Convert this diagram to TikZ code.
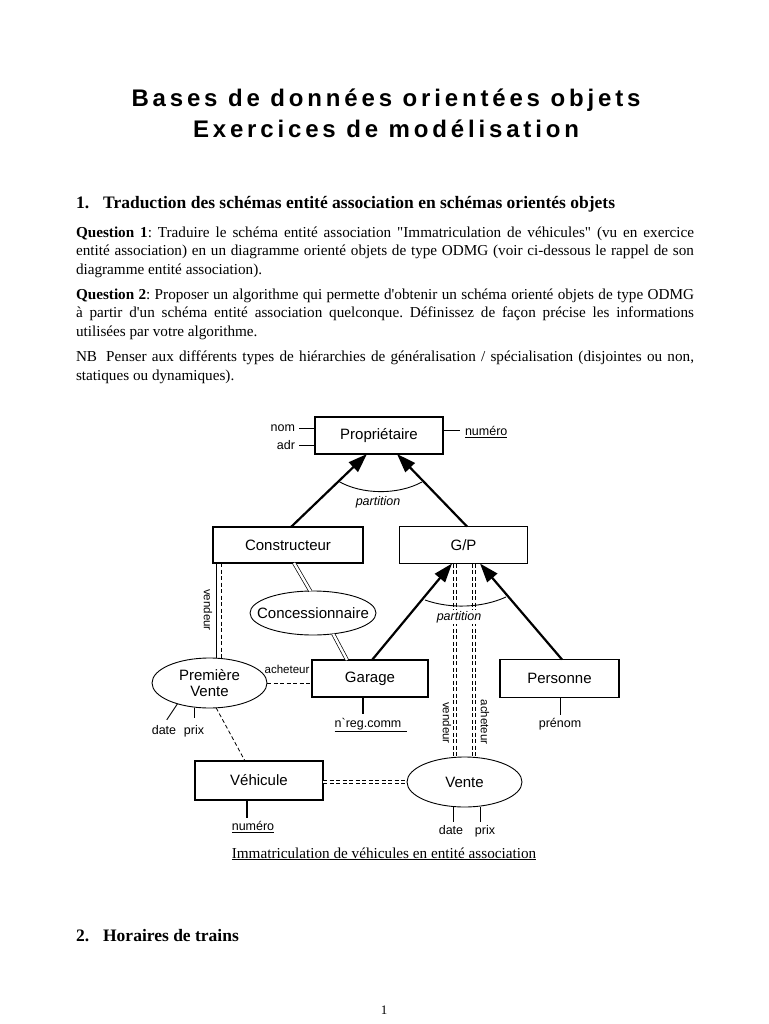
\documentclass[tikz,border=0pt]{standalone}
\usepackage{fontspec}
\setmainfont{Liberation Serif}[Ligatures=TeXOff]
\setsansfont{Liberation Sans}[Ligatures=TeXOff]
\newfontfamily\titlefont{Liberation Sans}[LetterSpace=16]
\usetikzlibrary{shapes.geometric,arrows.meta,calc}
\frenchspacing
\begin{document}
\begin{tikzpicture}[x=1pt,y=-1pt,
 every node/.style={inner sep=0pt,outer sep=0pt},
 body/.style={anchor=base west,font=\fontsize{15.2}{19}\selectfont},
 head/.style={anchor=base west,font=\bfseries\fontsize{17.5}{21}\selectfont},
 ttl/.style={anchor=base,font=\titlefont\bfseries\fontsize{24}{28}\selectfont},
 ent/.style={draw,line width=1.1pt,font=\sffamily\fontsize{15}{18}\selectfont},
 rel/.style={ellipse,draw,line width=0.9pt,inner sep=0pt},
 reltext/.style={font=\sffamily\fontsize{15}{16}\selectfont,align=center},
 attr/.style={font=\sffamily\fontsize{12.5}{14}\selectfont,inner sep=1pt},
 role/.style={font=\sffamily\fontsize{11.5}{13}\selectfont,inner sep=1pt},
 part/.style={font=\sffamily\itshape\fontsize{12.5}{14}\selectfont,inner sep=1.5pt},
 isa/.style={line width=2.2pt,-{Triangle[length=19pt,width=13pt]}},
 aline/.style={line width=0.9pt},
 dline/.style={line width=0.8pt,dash pattern=on 4pt off 2.5pt},
 ddline/.style={line width=0.7pt,double,double distance=2.6pt,dash pattern=on 4pt off 2.5pt},
 dbl/.style={line width=0.7pt,double,double distance=2.4pt},
]
\useasboundingbox (0,0) rectangle (768,1024);
\fill[white] (0,0) rectangle (768,1024);

% ---------- title and text ----------
\node[ttl] (t1) at (386,107) {Bases de données orientées objets};
\node[ttl] (t2) at (386,138) {Exercices de modélisation};

\node[head] (h1) at (76,209) {1.\hspace{14pt}Traduction des schémas entité association en schémas orientés objets};

\node[body] (q1a) at (76,237) {\makebox[618pt][s]{\textbf{Question 1}: Traduire le schéma entité association "Immatriculation de véhicules" (vu en exercice}};
\node[body] (q1b) at (76,255.5) {\makebox[618pt][s]{entité association) en un diagramme orienté objets de type ODMG (voir ci-dessous le rappel de son}};
\node[body] (q1c) at (76,274) {diagramme entité association).};

\node[body] (q2a) at (76,299) {\makebox[618pt][s]{\textbf{Question 2}: Proposer un algorithme qui permette d'obtenir un schéma orienté objets de type ODMG}};
\node[body] (q2b) at (76,317.5) {\makebox[618pt][s]{à partir d'un schéma entité association quelconque. Définissez de façon précise les informations}};
\node[body] (q2c) at (76,336) {utilisées par votre algorithme.};

\node[body] (nba) at (76,361) {\makebox[618pt][s]{NB\hspace{0.6em}Penser aux différents types de hiérarchies de généralisation / spécialisation (disjointes ou non,}};
\node[body] (nbb) at (76,380) {statiques ou dynamiques).};

% ---------- entities ----------
\node[ent,minimum width=128pt,minimum height=37pt] (prop) at (379,435.5) {Propriétaire};
\node[ent,minimum width=150pt,minimum height=36pt] (constr) at (288,545) {Constructeur};
\node[ent,minimum width=128pt,minimum height=37pt] (gp) at (463.5,545) {G/P};
\node[ent,minimum width=116pt,minimum height=37pt] (garage) at (370,678.5) {Garage};
\node[ent,minimum width=119pt,minimum height=38pt] (pers) at (559.5,678.5) {Personne};
\node[ent,minimum width=128pt,minimum height=39pt] (veh) at (259,780.5) {Véhicule};

% ---------- relationships ----------
\node[rel,minimum width=126pt,minimum height=44pt,label={[reltext]center:Concessionnaire}] (conc) at (313,613) {};
\node[rel,minimum width=115pt,minimum height=50pt,label={[reltext]center:Première\\Vente}] (pv) at (209.5,683) {};
\node[rel,minimum width=115pt,minimum height=50pt,label={[reltext]center:Vente}] (vente) at (464.5,782) {};

% ---------- generalisation arrows ----------
\draw[isa] (constr.north -| 291,0) -- (prop.south -| 367,0);
\draw[isa] (gp.north -| 467,0) -- (prop.south -| 397,0);
\draw[aline] (338,481) .. controls (362,495) and (398,495) .. (422,482);
\node[part] (p1) at (378,502) {partition};

% ---------- links ----------
% Constructeur - Concessionnaire - Garage
\draw[dbl] (constr.south -| 294,0) -- (conc.97);
\draw[dbl] (conc.-46) -- (garage.north -| 347,0);
% vendeur (Premiere vente)
\draw[line width=0.8pt] (constr.south -| 216,0) -- (pv.north -| 216,0);
\draw[dline] (constr.south -| 221,0) -- (pv.north -| 221,0);
\node[role,rotate=-90] (vend1) at (208,610) {vendeur};
% acheteur (Premiere vente)
\draw[dline] (pv.east) -- (pv.east -| garage.west);
\node[role] (ach1) at (287,669) {acheteur};
% Premiere vente - Vehicule
\draw[dline] (pv.-75) -- (veh.north -| 245,0);
% Vehicule - Vente
\draw[ddline] (veh.east |- vente.west) -- (vente.west);

% vendeur / acheteur (Vente) from G/P
\draw[ddline] (gp.south -| 455,0) -- (vente.north -| 455,0);
\draw[ddline] (gp.south -| 474,0) -- (vente.north -| 474,0);
\node[role,rotate=-90] (vend2) at (447,723) {vendeur};
\node[role,rotate=-90] (ach2) at (485,722) {acheteur};

% G/P generalisation
\draw[isa] (garage.north -| 372,0) -- (gp.south -| 452,0);
\draw[isa] (pers.north -| 562,0) -- (gp.south -| 480,0);
\draw[aline] (425,600) .. controls (450,609) and (482,608) .. (506,597);
\node[part,fill=white] (p2) at (459,617) {partition};

% ---------- attributes ----------
\node[attr,anchor=east] (nom) at (296,428) {nom};
\node[attr,anchor=east] (adr) at (296,445) {adr};
\draw[aline,shorten <=3pt] (nom.east) -- (nom.east -| prop.west);
\draw[aline,shorten <=3pt] (adr.east) -- (adr.east -| prop.west);
\node[attr,anchor=west] (pnum) at (464,432) {\underline{numéro}};
\draw[aline] (prop.east |- 0,430) -- (460,430);

\node[attr,anchor=north] (greg) at (371,717) {\underline{n\textasciigrave reg.comm\hspace*{6pt}}};
\draw[line width=1.4pt,shorten >=3pt] (garage.south -| 363,0) -- (greg.north -| 363,0);

\node[attr,anchor=north] (pren) at (560,717) {prénom};
\draw[aline,shorten >=2pt] (pren.north |- pers.south) -- (pren.north);

\node[attr,anchor=north] (vnum) at (253,820) {\underline{numéro}};
\draw[line width=1.4pt,shorten >=2pt] (veh.south -| 247,0) -- (vnum.north -| 247,0);

\node[attr,anchor=north] (vdate) at (451,824) {date};
\node[attr,anchor=north] (vprix) at (485,824) {prix};
\draw[aline,shorten >=2pt] (vente.south -| 453,0) -- (vdate.north -| 453,0);
\draw[aline,shorten >=2pt] (vente.south -| 480,0) -- (vprix.north -| 480,0);

\node[attr,anchor=north] (pdate) at (164,724) {date};
\node[attr,anchor=north] (pprix) at (194,724) {prix};
\draw[aline,shorten >=5pt] (pv.-147) -- (pdate.north);
\draw[aline,shorten >=6pt] (pv.south -| pprix.north) -- (pprix.north);

% ---------- caption and rest ----------
\node[anchor=base,font=\fontsize{15.2}{18}\selectfont] (cap) at (384,858) {\underline{Immatriculation de véhicules en entité association}};
\node[head] (h2) at (76,941) {2.\hspace{14pt}Horaires de trains};
\node[anchor=base,font=\fontsize{13}{15}\selectfont] (pg) at (384,1014) {1};
\end{tikzpicture}
\end{document}
